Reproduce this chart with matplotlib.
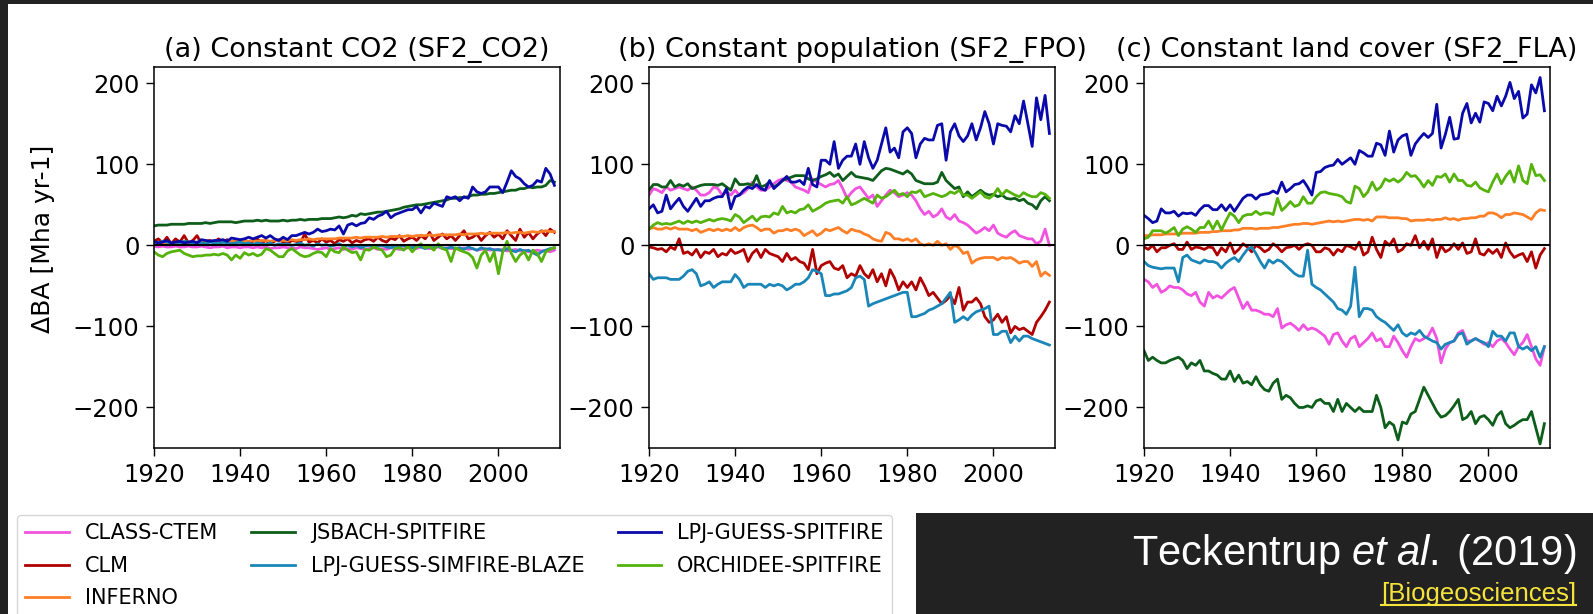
import numpy as np
import matplotlib
matplotlib.use("Agg")
import matplotlib.pyplot as plt
from matplotlib.patches import Rectangle
from matplotlib.lines import Line2D

plt.rcParams['font.family'] = ['DejaVu Sans']
plt.rcParams['mathtext.fontset'] = 'custom'
plt.rcParams['mathtext.rm'] = 'Liberation Sans'
plt.rcParams['mathtext.it'] = 'Liberation Sans:italic'

years = np.arange(1920, 2014)

models = ['CLASS-CTEM', 'CLM', 'INFERNO', 'JSBACH-SPITFIRE',
          'LPJ-GUESS-SIMFIRE-BLAZE', 'LPJ-GUESS-SPITFIRE', 'ORCHIDEE-SPITFIRE']
colors = ['#f252e0', '#b00000', '#ff7f27', '#0d5e1a',
          '#1a86b8', '#0a0aaa', '#55b30c']

titles = ['(a) Constant CO2 (SF2_CO2)', '(b) Constant population (SF2_FPO)',
          '(c) Constant land cover (SF2_FLA)']

# ---- (a) constant CO2 ----
a_class = [-1, -2, -1, -2, -2, -1, -2, -2, -1, -2,
           -2, -1, -2, -3, -2, -2, -1, -3, -2, -2,
           -3, -2, -2, -3, -2, -3, -2, -4, -3, -3,
           -2, -3, -3, -4, -2, -3, -3, -4, -5, -4,
           -3, -5, -4, -3, -5, -4, -5, -3, -4, -5,
           -4, -3, -5, -4, -5, -3, -4, -5, -4, -3,
           -3, -4, -2, -3, -4, -3, -2, -4, -3, -4,
           -4, -5, -3, -5, -4, -6, -5, -4, -6, -5,
           -6, -5, -7, -6, -5, -7, -6, -8, -7, -6,
           -7, -6, -8, -6]
a_clm = [5, 8, 3, 10, 2, 8, 4, 12, 3, 6,
         12, 2, 5, 6, 4, 8, 4, 7, 3, 6,
         4, 7, 3, 5, 8, 3, 6, 2, 5, 7,
         4, 2, 6, 5, 3, 14, 4, 6, 3, 8,
         4, 6, 2, 7, 5, 8, 3, 6, 4, 7,
         8, 5, 10, 6, 4, 9, 7, 12, 5, 8,
         10, 6, 12, 8, 16, 6, 10, 14, 8, 12,
         6, 12, 18, 8, 10, 14, 6, 12, 16, 10,
         14, 8, 18, 12, 6, 20, 10, 16, 8, 14,
         18, 12, 20, 16]
a_inferno = [3, 3, 4, 3, 4, 3, 4, 3, 4, 4,
             4, 4, 4, 5, 4, 5, 4, 5, 5, 5,
             5, 5, 5, 6, 5, 6, 6, 5, 6, 6,
             6, 6, 7, 6, 7, 7, 8, 7, 8, 8,
             8, 8, 8, 9, 9, 9, 9, 10, 9, 10,
             10, 10, 10, 11, 10, 11, 11, 11, 11, 12,
             11, 12, 12, 12, 13, 12, 13, 13, 13, 13,
             13, 14, 13, 14, 14, 14, 15, 14, 15, 15,
             15, 15, 16, 15, 16, 16, 15, 16, 17, 16,
             17, 18, 17, 17]
a_jsbach = [24, 25, 25, 25, 26, 26, 26, 26, 27, 27,
            27, 27, 28, 27, 28, 29, 29, 29, 29, 28,
            29, 30, 30, 30, 31, 30, 31, 30, 30, 30,
            31, 30, 31, 31, 32, 31, 32, 32, 32, 33,
            33, 33, 34, 35, 34, 35, 37, 36, 39, 38,
            39, 40, 41, 41, 42, 43, 44, 45, 47, 48,
            49, 50, 50, 51, 52, 53, 54, 55, 56, 58,
            58, 59, 59, 60, 62, 62, 63, 63, 64, 64,
            65, 66, 67, 68, 68, 70, 70, 72, 71, 72,
            72, 74, 80, 78]
a_blaze = [4, 3, 5, 4, 3, 4, 3, 5, 4, 3,
           4, 3, 2, 4, 3, 2, 4, 3, 2, 3,
           4, 2, 3, 1, 3, 2, 1, 3, 0, 2,
           1, 2, 0, 1, 3, 0, 1, -1, 2, 0,
           1, -1, 0, 2, -1, 0, -2, 0, -3, -1,
           0, -2, -1, 0, -2, -3, -1, -2, 0, -2,
           -3, -1, -2, -4, -2, -3, -1, -3, -4, -2,
           -4, -3, -5, -2, -4, -6, -3, -5, -4, -6,
           -5, -7, -4, -6, -8, -5, -7, -6, -9, -12,
           -8, -6, -4, -3]
a_spit = [5, 3, 4, 6, 3, 4, 5, 3, 4, 5,
          3, 7, 6, 5, 6, 6, 7, 5, 9, 8,
          7, 8, 10, 8, 10, 12, 9, 12, 8, 6,
          10, 7, 12, 12, 14, 16, 14, 16, 20, 17,
          18, 20, 19, 24, 14, 25, 27, 24, 27, 28,
          34, 32, 36, 38, 42, 34, 38, 40, 42, 44,
          44, 48, 40, 48, 46, 52, 50, 48, 60, 58,
          60, 55, 60, 58, 72, 66, 64, 66, 72, 72,
          72, 65, 78, 92, 85, 82, 76, 72, 74, 80,
          78, 95, 88, 74]
a_orch = [-8, -12, -14, -10, -8, -7, -6, -10, -12, -14,
          -13, -13, -12, -12, -11, -12, -10, -12, -18, -12,
          -16, -9, -12, -10, -13, -11, -4, -6, -10, -14,
          -14, -7, -4, -8, -12, -14, -13, -10, -8, -9,
          -14, -4, -8, -9, -2, -6, -9, -8, -18, -5,
          -6, -2, -4, -6, -14, -12, -4, -3, -6, -1,
          -8, -2, 2, -3, -1, -6, 2, -4, -6, -20,
          -3, -6, -8, -10, -15, -28, -12, -6, -20, -8,
          -35, -8, 5, -10, -20, -12, -8, -18, -6, -10,
          -20, -8, -5, -3]

# ---- (b) constant population ----
b_class = [62, 70, 68, 65, 72, 68, 70, 72, 70, 68,
           72, 68, 62, 62, 65, 72, 70, 62, 66, 62,
           68, 62, 65, 70, 78, 72, 68, 68, 72, 76,
           80, 82, 80, 78, 72, 70, 68, 65, 82, 78,
           75, 72, 75, 76, 80, 70, 58, 65, 70, 72,
           65, 58, 62, 48, 55, 62, 68, 65, 60, 62,
           65, 62, 55, 45, 38, 42, 35, 38, 45, 35,
           32, 38, 30, 28, 25, 20, 15, 18, 22, 18,
           25, 15, 12, 10, 15, 18, 12, 10, 8, 8,
           2, 5, 20, 0]
b_clm = [-2, -3, -5, -4, -8, -2, -5, 8, -10, -8,
         -12, -5, -15, -8, -10, -5, -14, -10, -12, -5,
         -10, -8, -5, -20, -10, -5, -15, -5, -10, -12,
         -14, -20, -10, -18, -15, -20, -22, -30, -5, -35,
         -25, -22, -20, -28, -30, -25, -40, -35, -38, -25,
         -35, -40, -30, -45, -35, -50, -30, -40, -55, -45,
         -52, -45, -55, -40, -50, -62, -58, -65, -72, -68,
         -62, -72, -52, -80, -70, -70, -65, -72, -88, -95,
         -92, -85, -95, -88, -108, -100, -104, -102, -106, -110,
         -95, -88, -80, -70]
b_inferno = [20, 22, 20, 20, 22, 20, 22, 20, 20, 20,
             18, 20, 16, 18, 20, 18, 20, 18, 20, 18,
             22, 18, 22, 24, 25, 22, 18, 20, 20, 15,
             18, 18, 20, 18, 20, 18, 12, 15, 18, 12,
             15, 20, 18, 20, 22, 18, 15, 20, 18, 17,
             14, 12, 8, 6, 5, 16, 14, 8, 8, 6,
             8, 5, 8, 2, 0, 2, 0, 5, 0, 2,
             -5, 0, -3, -10, -8, -22, -18, -16, -15, -15,
             -15, -18, -15, -16, -15, -18, -22, -20, -20, -26,
             -20, -38, -33, -37]
b_jsbach = [68, 75, 75, 72, 72, 80, 72, 75, 73, 76,
            70, 72, 74, 75, 75, 75, 74, 76, 72, 68,
            82, 75, 75, 76, 74, 86, 72, 74, 78, 72,
            75, 80, 82, 84, 86, 86, 86, 82, 80, 82,
            85, 87, 90, 85, 88, 80, 85, 90, 85, 84,
            83, 82, 80, 86, 92, 95, 94, 92, 90, 88,
            92, 88, 80, 78, 76, 76, 76, 78, 90, 80,
            75, 70, 72, 60, 66, 60, 64, 68, 64, 62,
            63, 60, 62, 58, 57, 58, 55, 57, 52, 50,
            45, 55, 60, 55]
b_blaze = [-35, -42, -40, -40, -40, -42, -42, -42, -38, -32,
           -30, -35, -50, -48, -45, -52, -48, -45, -45, -45,
           -36, -42, -52, -48, -48, -48, -48, -52, -48, -50,
           -48, -50, -55, -52, -48, -48, -45, -40, -30, -32,
           -35, -62, -62, -60, -60, -58, -56, -52, -40, -38,
           -42, -75, -72, -70, -68, -66, -64, -62, -60, -58,
           -58, -88, -88, -86, -84, -80, -78, -75, -72, -65,
           -58, -95, -92, -88, -92, -86, -82, -80, -78, -75,
           -110, -110, -106, -106, -120, -112, -118, -112, -112, -115,
           -117, -119, -121, -123]
b_spit = [45, 50, 40, 42, 62, 45, 52, 58, 48, 42,
          50, 58, 48, 55, 55, 58, 60, 60, 70, 45,
          60, 62, 68, 72, 70, 75, 70, 68, 80, 70,
          75, 80, 85, 78, 78, 80, 75, 95, 75, 72,
          105, 105, 100, 128, 95, 105, 110, 110, 125, 100,
          128, 108, 95, 105, 125, 145, 115, 120, 108, 140,
          145, 138, 108, 125, 132, 130, 130, 148, 150, 105,
          140, 150, 135, 128, 135, 150, 130, 145, 165, 150,
          125, 150, 148, 147, 140, 160, 150, 178, 150, 122,
          182, 155, 185, 138]
b_orch = [20, 25, 28, 26, 27, 26, 28, 30, 27, 30,
          28, 30, 28, 30, 32, 30, 32, 33, 32, 30,
          38, 35, 28, 32, 36, 30, 35, 36, 35, 40,
          38, 48, 40, 42, 40, 44, 45, 50, 42, 45,
          48, 52, 54, 55, 56, 52, 60, 50, 52, 55,
          58, 55, 52, 62, 58, 60, 64, 68, 62, 64,
          60, 66, 65, 68, 60, 62, 64, 62, 60, 62,
          66, 64, 68, 62, 62, 58, 62, 66, 60, 58,
          62, 70, 62, 68, 65, 62, 60, 65, 62, 60,
          60, 65, 63, 58]

# ---- (c) constant land cover ----
c_class = [-42, -45, -52, -48, -58, -55, -50, -52, -52, -55,
           -60, -62, -58, -70, -75, -58, -65, -62, -65, -60,
           -55, -52, -65, -78, -70, -80, -80, -82, -85, -85,
           -88, -78, -102, -98, -96, -100, -105, -98, -104, -102,
           -104, -108, -112, -122, -110, -108, -118, -125, -115, -112,
           -125, -120, -115, -108, -118, -115, -125, -125, -112, -120,
           -130, -138, -125, -115, -118, -115, -112, -102, -115, -145,
           -128, -120, -118, -108, -105, -118, -118, -115, -118, -122,
           -120, -125, -118, -115, -120, -128, -135, -125, -120, -110,
           -125, -140, -148, -125]
c_clm = [-2, -5, 0, -8, -3, -3, 0, 2, -5, -5,
         4, -5, -2, -3, -5, -2, -3, -12, -3, -8,
         3, -10, -5, 2, -2, -8, 0, -3, -8, -5,
         2, -2, -8, -3, -2, 0, -5, 0, 2, 0,
         -8, -8, -3, -5, -12, -5, -8, 0, -2, -5,
         4, -12, -8, 10, -5, -15, 5, 0, 8, -8,
         -5, 2, 0, 12, -3, 5, -5, 8, -15, 0,
         -8, -5, 2, -5, 3, -10, -8, 8, -10, -12,
         -5, -10, -5, -15, 3, -8, -15, -12, -10, -20,
         -8, -28, -12, -4]
c_inferno = [12, 12, 13, 13, 13, 14, 14, 14, 14, 15,
             15, 15, 15, 16, 16, 16, 17, 17, 18, 18,
             18, 19, 19, 21, 21, 21, 20, 21, 21, 21,
             22, 22, 23, 24, 25, 26, 26, 27, 27, 26,
             27, 28, 29, 30, 29, 30, 29, 30, 31, 32,
             32, 31, 32, 30, 35, 35, 35, 34, 34, 34,
             33, 33, 30, 31, 31, 31, 32, 31, 32, 32,
             34, 32, 33, 31, 33, 33, 34, 34, 36, 36,
             40, 40, 38, 34, 38, 38, 40, 39, 38, 35,
             32, 40, 44, 43]
c_jsbach = [-130, -142, -138, -142, -145, -145, -142, -140, -138, -142,
            -152, -145, -148, -142, -155, -155, -158, -160, -165, -165,
            -155, -168, -160, -170, -168, -172, -162, -172, -178, -180,
            -170, -165, -190, -185, -188, -195, -200, -200, -198, -200,
            -192, -190, -195, -195, -205, -190, -205, -195, -200, -205,
            -200, -205, -205, -205, -185, -200, -225, -218, -222, -240,
            -218, -220, -208, -205, -190, -175, -185, -195, -205, -212,
            -210, -205, -198, -190, -215, -212, -205, -220, -212, -210,
            -215, -222, -210, -205, -220, -225, -222, -218, -215, -215,
            -205, -225, -245, -220]
c_blaze = [-20, -25, -27, -28, -29, -28, -28, -28, -45, -15,
           -12, -18, -20, -22, -18, -20, -20, -22, -28, -22,
           -18, -15, -20, -12, -5, -2, -10, -20, -28, -18,
           -22, -18, -20, -25, -30, -35, -38, -38, -6, -48,
           -52, -55, -60, -65, -70, -78, -80, -85, -75, -27,
           -88, -78, -78, -80, -88, -92, -95, -100, -105, -98,
           -108, -112, -108, -110, -105, -112, -115, -118, -120, -128,
           -122, -120, -118, -110, -108, -122, -118, -115, -118, -120,
           -125, -106, -112, -112, -118, -108, -108, -125, -128, -125,
           -130, -125, -138, -125]
c_spit = [37, 33, 28, 30, 45, 40, 40, 42, 36, 40,
          39, 40, 37, 44, 49, 49, 44, 44, 50, 43,
          50, 42, 50, 58, 62, 62, 57, 62, 63, 64,
          67, 64, 78, 66, 70, 75, 76, 80, 72, 62,
          90, 91, 96, 98, 99, 106, 100, 104, 108, 100,
          117, 114, 110, 110, 126, 124, 111, 141, 115, 130,
          135, 137, 111, 125, 132, 138, 133, 138, 174, 120,
          137, 158, 131, 132, 163, 175, 151, 163, 152, 177,
          175, 166, 184, 172, 184, 201, 181, 190, 157, 162,
          198, 188, 207, 166]
c_orch = [8, 10, 18, 18, 18, 15, 18, 22, 12, 20,
          23, 20, 16, 22, 22, 30, 20, 30, 19, 30,
          40, 36, 28, 36, 38, 38, 42, 38, 40, 40,
          38, 58, 43, 48, 54, 48, 50, 60, 52, 52,
          60, 65, 66, 64, 63, 62, 60, 54, 52, 73,
          70, 60, 66, 78, 68, 72, 82, 79, 82, 78,
          82, 90, 85, 86, 80, 72, 80, 74, 85, 84,
          88, 78, 88, 80, 80, 74, 73, 78, 71, 68,
          66, 78, 88, 76, 85, 92, 78, 98, 80, 76,
          100, 86, 87, 80]

panels = [
    [a_class, a_clm, a_inferno, a_jsbach, a_blaze, a_spit, a_orch],
    [b_class, b_clm, b_inferno, b_jsbach, b_blaze, b_spit, b_orch],
    [c_class, c_clm, c_inferno, c_jsbach, c_blaze, c_spit, c_orch],
]

W, H = 1593, 614
fig = plt.figure(figsize=(W / 100, H / 100), dpi=100)
fig.patch.set_facecolor('white')

# dark page background showing at the top and left edge
dark = '#222222'
fig.patches.append(Rectangle((0, 1 - 4 / H), 1, 4 / H, transform=fig.transFigure,
                             facecolor=dark, edgecolor='none', zorder=0))
fig.patches.append(Rectangle((0, 0), 8 / W, 1, transform=fig.transFigure,
                             facecolor=dark, edgecolor='none', zorder=0))

lefts = [154, 649, 1144]
ax_w, top, bot = 406, 67, 448
axes = []
for i, left in enumerate(lefts):
    ax = fig.add_axes([left / W, 1 - bot / H, ax_w / W, (bot - top) / H])
    for series, col in zip(panels[i], colors):
        ax.plot(years, series, color=col, lw=2.0)
    ax.axhline(0, color='black', lw=1.5, zorder=3)
    ax.set_xlim(1920, 2014.3)
    ax.set_ylim(-250, 220)
    ax.set_xticks([1920, 1940, 1960, 1980, 2000])
    ax.set_yticks([-200, -100, 0, 100, 200])
    ax.tick_params(labelsize=17.5, length=5.5, width=1, pad=5)
    for sp in ax.spines.values():
        sp.set_linewidth(1.1)
    ax.set_title(titles[i], fontsize=19.5, pad=7)
    axes.append(ax)

axes[0].set_ylabel('ΔBA [Mha yr-1]', fontsize=18)
axes[0].yaxis.set_label_coords(-0.245, 0.55)

handles = [Line2D([], [], color=c, lw=2.0) for c in colors]
fig.legend(handles, models, ncol=3, loc='upper left',
           bbox_to_anchor=(17 / W, 1 - 515 / H), borderaxespad=0,
           fontsize=15, handlelength=2.1, handletextpad=0.75,
           columnspacing=1.6, labelspacing=0.6, borderpad=0.4)

# citation box
fig.patches.append(Rectangle((916 / W, 0), 1 - 916 / W, (H - 513) / H,
                             transform=fig.transFigure, facecolor=dark,
                             edgecolor='none', zorder=5))
fig.text(1576 / W, 1 - 565 / H, r'Teckentrup $\mathit{et\;al.}\;$(2019)',
         family='Liberation Sans', fontsize=30, color='white',
         ha='right', va='baseline', zorder=6)
link = fig.text(1576 / W, 1 - 601 / H, '[Biogeosciences]',
                family='Liberation Sans', fontsize=18.5, color='#f5e33c',
                ha='right', va='baseline', zorder=6)

fig.canvas.draw()
bb = link.get_window_extent()
uy = 1 - 605 / H
fig.lines.append(Line2D([bb.x0 / W, bb.x1 / W], [uy, uy], transform=fig.transFigure,
                        color='#f5e33c', lw=1.5, zorder=6))

fig.savefig('out.png', dpi=100, facecolor=fig.get_facecolor())
